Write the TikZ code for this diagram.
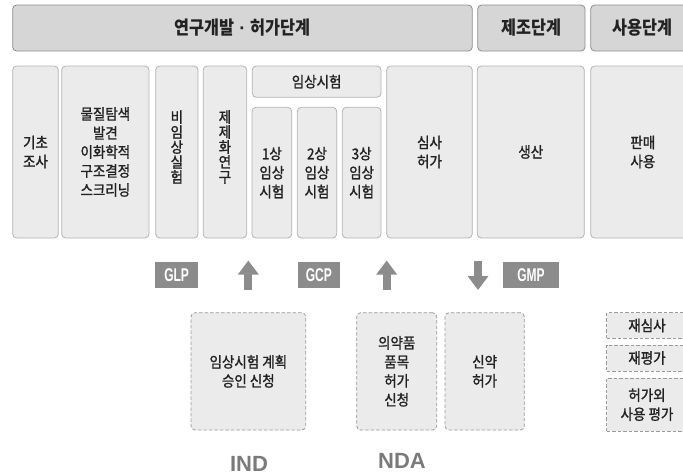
\documentclass[tikz,border=0pt]{standalone}
\usepackage{fontspec}
\setmainfont{Noto Sans CJK KR}[FakeStretch=0.88]
\newfontfamily\bodyfont{Noto Sans CJK KR}[FakeStretch=0.9,FakeBold=1.3]
\newfontfamily\labfont{Liberation Sans}[FakeStretch=0.65]
\newfontfamily\codefont{Liberation Sans}
\usetikzlibrary{arrows.meta}
\definecolor{hdrfill}{HTML}{D6D6D6}
\definecolor{hdrline}{HTML}{8E8E8E}
\definecolor{colfill}{HTML}{EBEBEB}
\definecolor{colline}{HTML}{B2B2B2}
\definecolor{dashline}{HTML}{9A9A9A}
\definecolor{labgray}{HTML}{8C8C8C}
\definecolor{txt}{HTML}{222222}
\definecolor{codegray}{HTML}{7A7A7A}
\begin{document}
\begin{tikzpicture}[x=1pt,y=-1pt,
  hdr/.style={draw=hdrline, fill=hdrfill, rounded corners=4pt, line width=0.8pt,
    inner sep=0pt, text=txt, font=\fontsize{18.5}{22}\selectfont\bfseries},
  col/.style={draw=colline, fill=colfill, rounded corners=4pt, line width=0.8pt,
    inner sep=0pt, align=center, text=txt, font=\bodyfont\fontsize{15}{19}\selectfont},
  vcol/.style={col, font=\bodyfont\fontsize{15}{15}\selectfont},
  dbox/.style={draw=dashline, fill=colfill, rounded corners=4pt, line width=0.8pt,
    dash pattern=on 3.5pt off 2pt, inner sep=0pt, align=center, text=txt,
    font=\bodyfont\fontsize{15}{19}\selectfont},
  sbox/.style={dbox, rounded corners=0pt},
  lab/.style={fill=labgray, inner sep=0pt, text=white,
    font=\fontsize{18.5}{20}\labfont\bfseries},
  code/.style={text=codegray, font=\fontsize{22}{24}\codefont\bfseries, inner sep=0pt},
  bigarrow/.style={draw=labgray, line width=8pt, -{Triangle[width=20pt,length=14pt]}}
]
\useasboundingbox (0,0) rectangle (683,475);
\clip (0,0) rectangle (683,475);

% top stage bar
\node[hdr, minimum width=459.6pt, minimum height=46pt] (h1) at (242.5,28) {연구개발{\codefont\ ·\ }허가단계};
\node[hdr, minimum width=107.3pt, minimum height=46pt] (h2) at (531.35,28) {제조단계};
\node[hdr, minimum width=104.3pt, minimum height=46pt] (h3) at (642.85,28) {사용단계};

% columns
\node[col, minimum width=45.6pt, minimum height=172pt] (c1) at (35.5,152) {기초\\조사};
\node[col, minimum width=87.3pt, minimum height=172pt] (c2) at (105.35,152) {물질탐색\\발견\\이화학적\\구조결정\\스크리닝};
\node[vcol, minimum width=42.3pt, minimum height=172pt] (c3) at (176.85,152) {};
\node[vcol, minimum width=43.5pt, minimum height=172pt] (c4) at (224.95,152) {};
\node[vcol, text=txt] (c3t) at (176.85,147) [draw=none, fill=none] {비\\임\\상\\실\\험};
\node[vcol, text=txt] (c4t) at (224.95,147) [draw=none, fill=none] {제\\제\\화\\연\\구};
\node[col, minimum width=128.7pt, minimum height=31.3pt] (ct) at (316.65,81.65) {임상시험};
\node[col, minimum width=39.7pt, minimum height=130.7pt] (p1) at (271.85,172.65) {1상\\임상\\시험};
\node[col, minimum width=39.4pt, minimum height=130.7pt] (p2) at (317,172.65) {2상\\임상\\시험};
\node[col, minimum width=38.7pt, minimum height=130.7pt] (p3) at (361.65,172.65) {3상\\임상\\시험};
\node[col, minimum width=85.6pt, minimum height=172pt] (c5) at (429.5,152) {심사\\허가};
\node[col, minimum width=107pt, minimum height=172pt] (c6) at (530.8,152) {생산};
\node[col, minimum width=104.3pt, minimum height=172pt] (c7) at (642.85,152) {판매\\사용};

% GxP labels
\node[lab, minimum width=43.3pt, minimum height=26pt] (glp) at (176.65,274.7) {GLP};
\node[lab, minimum width=42.3pt, minimum height=26pt] (gcp) at (318.85,274.7) {GCP};
\node[lab, minimum width=56.6pt, minimum height=26pt] (gmp) at (531,274.7) {GMP};

% arrows
\coordinate (a1s) at (248.3,290);
\coordinate (a1e) at (248.3,260.5);
\coordinate (a2s) at (386.7,290);
\coordinate (a2e) at (386.7,260.5);
\coordinate (a3s) at (478,261);
\coordinate (a3e) at (478,290);
\draw[bigarrow] (a1s) -- (a1e);
\draw[bigarrow] (a2s) -- (a2e);
\draw[bigarrow] (a3s) -- (a3e);

% dashed application boxes
\node[dbox, minimum width=114.7pt, minimum height=117.3pt] (ind) at (248.35,371.35) {임상시험 계획\\승인 신청};
\node[dbox, minimum width=80pt, minimum height=117.3pt] (nda) at (396.7,371.35) {의약품\\품목\\허가\\신청};
\node[dbox, minimum width=79.3pt, minimum height=117.3pt] (nd2) at (484.65,371.35) {신약\\허가};
\node[sbox, minimum width=80.6pt, minimum height=25.6pt] (r1) at (647,325.5) {재심사};
\node[sbox, minimum width=80.6pt, minimum height=26pt] (r2) at (647,358) {재평가};
\node[sbox, minimum width=80.6pt, minimum height=52.7pt] (r3) at (647,404.65) {허가외\\사용 평가};

% codes
\node[code] (indl) at (249,464) {IND};
\node[code] (ndal) at (402,461) {NDA};
\end{tikzpicture}
\end{document}
